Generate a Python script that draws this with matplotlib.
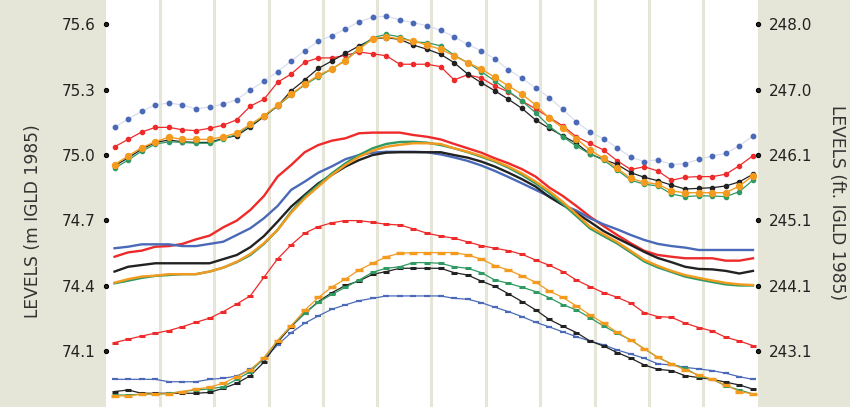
import matplotlib
matplotlib.use("Agg")
import matplotlib.pyplot as plt
import numpy as np

# weekly positions, 4 per month over 12 months
weeks = np.arange(48)
month_edges = np.arange(1, 12) * 4 - 2 / 3

# upper group (round markers)
top_blue = [75.127, 75.166, 75.201, 75.230, 75.239, 75.230, 75.212, 75.221, 75.234, 75.254,
            75.299, 75.339, 75.383, 75.432, 75.479, 75.523, 75.548, 75.579, 75.612, 75.633,
            75.638, 75.621, 75.608, 75.594, 75.573, 75.543, 75.508, 75.479, 75.441, 75.392,
            75.352, 75.308, 75.264, 75.210, 75.152, 75.107, 75.074, 75.034, 74.990, 74.970,
            74.979, 74.956, 74.960, 74.980, 74.996, 75.008, 75.043, 75.088]
top_red = [75.038, 75.072, 75.106, 75.127, 75.127, 75.116, 75.112, 75.123, 75.137, 75.162,
           75.225, 75.256, 75.334, 75.372, 75.426, 75.446, 75.446, 75.458, 75.473, 75.465,
           75.456, 75.417, 75.417, 75.417, 75.406, 75.345, 75.369, 75.354, 75.317, 75.290,
           75.248, 75.212, 75.173, 75.134, 75.084, 75.054, 75.023, 74.974, 74.934, 74.946,
           74.927, 74.884, 74.898, 74.901, 74.901, 74.912, 74.951, 74.997]
top_black = [74.950, 74.987, 75.027, 75.058, 75.069, 75.061, 75.058, 75.058, 75.077, 75.089,
             75.130, 75.176, 75.225, 75.295, 75.345, 75.398, 75.432, 75.467, 75.501, 75.533,
             75.539, 75.531, 75.505, 75.486, 75.463, 75.424, 75.372, 75.332, 75.295, 75.256,
             75.214, 75.161, 75.123, 75.088, 75.054, 75.005, 74.980, 74.957, 74.919, 74.898,
             74.882, 74.862, 74.844, 74.847, 74.850, 74.858, 74.877, 74.912]
top_orange = [74.956, 74.996, 75.034, 75.061, 75.082, 75.072, 75.072, 75.072, 75.084, 75.101,
              75.141, 75.181, 75.228, 75.279, 75.326, 75.366, 75.396, 75.433, 75.486, 75.533,
              75.543, 75.533, 75.524, 75.505, 75.486, 75.456, 75.424, 75.395, 75.357, 75.317,
              75.279, 75.230, 75.169, 75.125, 75.075, 75.023, 74.985, 74.939, 74.893, 74.875,
              74.866, 74.835, 74.827, 74.827, 74.827, 74.827, 74.858, 74.905]
top_green = [74.939, 74.977, 75.018, 75.050, 75.061, 75.058, 75.054, 75.054, 75.074, 75.095,
             75.137, 75.179, 75.225, 75.276, 75.322, 75.360, 75.395, 75.436, 75.490, 75.539,
             75.554, 75.543, 75.520, 75.516, 75.502, 75.459, 75.424, 75.383, 75.340, 75.293,
             75.248, 75.194, 75.133, 75.084, 75.041, 75.005, 74.977, 74.931, 74.885, 74.866,
             74.858, 74.821, 74.809, 74.813, 74.812, 74.809, 74.832, 74.885]

# middle group (plain lines)
mid_red = [74.533, 74.553, 74.561, 74.579, 74.582, 74.592, 74.613, 74.630, 74.668, 74.699,
           74.748, 74.812, 74.901, 74.954, 75.013, 75.046, 75.066, 75.077, 75.100, 75.103,
           75.103, 75.103, 75.092, 75.084, 75.072, 75.051, 75.031, 75.011, 74.985, 74.962,
           74.935, 74.901, 74.851, 74.812, 74.766, 74.717, 74.674, 74.633, 74.595, 74.560,
           74.541, 74.533, 74.526, 74.526, 74.526, 74.515, 74.515, 74.526]
mid_blue = [74.572, 74.579, 74.590, 74.590, 74.590, 74.582, 74.582, 74.592, 74.602, 74.633,
            74.664, 74.710, 74.766, 74.840, 74.878, 74.919, 74.948, 74.981, 75.000, 75.011,
            75.015, 75.015, 75.015, 75.013, 75.003, 74.989, 74.973, 74.952, 74.927, 74.899,
            74.870, 74.840, 74.810, 74.771, 74.745, 74.710, 74.682, 74.659, 74.633, 74.610,
            74.592, 74.582, 74.575, 74.564, 74.564, 74.564, 74.564, 74.564]
mid_black = [74.465, 74.487, 74.495, 74.503, 74.503, 74.503, 74.503, 74.503, 74.522, 74.541,
             74.577, 74.628, 74.694, 74.763, 74.817, 74.870, 74.909, 74.947, 74.977, 75.000,
             75.011, 75.013, 75.013, 75.013, 75.013, 75.000, 74.988, 74.970, 74.947, 74.919,
             74.889, 74.855, 74.808, 74.771, 74.734, 74.693, 74.651, 74.618, 74.587, 74.555,
             74.527, 74.508, 74.487, 74.477, 74.475, 74.468, 74.456, 74.468]
mid_green = [74.411, 74.423, 74.436, 74.445, 74.449, 74.453, 74.453, 74.465, 74.483, 74.508,
             74.541, 74.592, 74.656, 74.740, 74.809, 74.863, 74.916, 74.962, 75.000, 75.031,
             75.051, 75.060, 75.061, 75.057, 75.046, 75.031, 75.013, 74.992, 74.970, 74.942,
             74.909, 74.870, 74.826, 74.775, 74.720, 74.663, 74.628, 74.594, 74.553, 74.511,
             74.484, 74.463, 74.442, 74.429, 74.417, 74.406, 74.401, 74.401]
mid_orange = [74.414, 74.430, 74.442, 74.446, 74.453, 74.453, 74.453, 74.465, 74.483, 74.510,
              74.546, 74.595, 74.656, 74.735, 74.801, 74.855, 74.909, 74.954, 74.992, 75.020,
              75.038, 75.047, 75.054, 75.054, 75.051, 75.031, 75.015, 74.996, 74.974, 74.947,
              74.916, 74.878, 74.835, 74.785, 74.729, 74.671, 74.636, 74.601, 74.560, 74.518,
              74.491, 74.468, 74.449, 74.436, 74.424, 74.413, 74.406, 74.403]

# lower group (bar markers)
low_red = [74.139, 74.154, 74.169, 74.182, 74.194, 74.212, 74.232, 74.251, 74.281, 74.316,
           74.354, 74.439, 74.523, 74.587, 74.641, 74.671, 74.689, 74.699, 74.699, 74.691,
           74.682, 74.679, 74.661, 74.641, 74.628, 74.618, 74.601, 74.584, 74.572, 74.561,
           74.544, 74.518, 74.494, 74.465, 74.426, 74.396, 74.368, 74.347, 74.320, 74.276,
           74.258, 74.255, 74.228, 74.208, 74.192, 74.163, 74.146, 74.125]
low_orange = [73.894, 73.894, 73.902, 73.903, 73.903, 73.914, 73.925, 73.934, 73.952, 73.982,
              74.013, 74.070, 74.148, 74.216, 74.287, 74.346, 74.394, 74.431, 74.472, 74.503,
              74.533, 74.549, 74.552, 74.552, 74.552, 74.552, 74.541, 74.522, 74.492, 74.472,
              74.445, 74.416, 74.376, 74.346, 74.307, 74.266, 74.228, 74.186, 74.151, 74.110,
              74.071, 74.041, 74.013, 73.990, 73.970, 73.944, 73.914, 73.903]
low_green = [73.898, 73.898, 73.902, 73.902, 73.906, 73.914, 73.921, 73.926, 73.936, 73.970,
             74.005, 74.067, 74.148, 74.216, 74.273, 74.324, 74.360, 74.393, 74.426, 74.462,
             74.480, 74.487, 74.506, 74.506, 74.503, 74.487, 74.480, 74.460, 74.426, 74.411,
             74.393, 74.373, 74.345, 74.313, 74.289, 74.253, 74.215, 74.182, 74.151, 74.110,
             74.071, 74.041, 74.021, 73.986, 73.970, 73.940, 73.921, 73.903]
low_black = [73.914, 73.921, 73.906, 73.906, 73.906, 73.906, 73.906, 73.910, 73.929, 73.952,
             73.987, 74.049, 74.140, 74.212, 74.273, 74.327, 74.368, 74.401, 74.422, 74.452,
             74.465, 74.480, 74.480, 74.480, 74.480, 74.460, 74.449, 74.421, 74.397, 74.363,
             74.327, 74.289, 74.245, 74.214, 74.185, 74.146, 74.123, 74.093, 74.067, 74.036,
             74.016, 74.010, 73.987, 73.978, 73.970, 73.957, 73.944, 73.925]
low_blue = [73.970, 73.970, 73.970, 73.970, 73.959, 73.959, 73.959, 73.970, 73.975, 73.985,
            74.016, 74.062, 74.128, 74.184, 74.228, 74.261, 74.292, 74.312, 74.331, 74.342,
            74.353, 74.353, 74.353, 74.353, 74.353, 74.342, 74.338, 74.322, 74.301, 74.281,
            74.258, 74.232, 74.211, 74.188, 74.166, 74.146, 74.128, 74.105, 74.086, 74.067,
            74.041, 74.036, 74.025, 74.018, 74.010, 73.998, 73.982, 73.970]

m_ticks = [74.1, 74.4, 74.7, 75.0, 75.3, 75.6]
M_TO_FT = 3.28084

RED = "#ee2a2a"
BLUE = "#4a6ab8"
BLACK = "#222222"
GREEN = "#2f9a62"
ORANGE = "#f39a1f"
BEIGE = "#e5e6d7"

fig = plt.figure(figsize=(8.5, 4.07), dpi=100, facecolor=BEIGE)
ax = fig.add_axes([105.5 / 850, 0, 652 / 850, 1])
ax.set_facecolor("white")
ax.set_xlim(-2 / 3, 47 + 1 / 3)
ax.set_ylim(73.843, 75.712)

for xe in month_edges:
    ax.axvline(xe, color=BEIGE, lw=2.2, zorder=0)

# upper group
ax.plot(weeks, top_blue, color="#d8deee", lw=0.9, marker="o", ms=3.2,
        mfc=BLUE, mec=BLUE, zorder=2)
ax.plot(weeks, top_red, color=RED, lw=0.9, marker="o", ms=3, zorder=3)
ax.plot(weeks, top_black, color=BLACK, lw=0.9, marker="o", ms=3, zorder=3)
ax.plot(weeks, top_green, color=GREEN, lw=0.9, marker="o", ms=3, zorder=3)
ax.plot(weeks, top_orange, color=ORANGE, lw=1, marker="o", ms=4.3, zorder=4)

# middle group
ax.plot(weeks, mid_red, color=RED, lw=1.7, zorder=3)
ax.plot(weeks, mid_blue, color=BLUE, lw=1.7, zorder=3)
ax.plot(weeks, mid_black, color=BLACK, lw=1.7, zorder=3)
ax.plot(weeks, mid_green, color=GREEN, lw=1.7, zorder=3)
ax.plot(weeks, mid_orange, color=ORANGE, lw=1.7, zorder=4)

# lower group
for vals, col, ms, mew in [(low_red, RED, 4.5, 2.2), (low_blue, BLUE, 4, 1.6),
                           (low_black, BLACK, 4.5, 2.2), (low_green, GREEN, 4.5, 2.2),
                           (low_orange, ORANGE, 5.5, 2.4)]:
    ax.plot(weeks, vals, color=col, lw=0.9, marker="_", ms=ms, mew=mew, zorder=3)

for s in ax.spines.values():
    s.set_visible(False)
ax.set_xticks([])
ax.set_yticks(m_ticks)
ax.set_yticklabels([f"{t:.1f}" for t in m_ticks])
ax.tick_params(axis="y", length=3, pad=4, labelsize=11, labelcolor="#222222")
for t in ax.yaxis.get_major_ticks():
    t.tick1line.set_marker("o")
    t.tick1line.set_markersize(3)
    t.tick1line.set_color("#222222")

ax2 = ax.twinx()
ax2.set_ylim(73.843 * M_TO_FT, 75.712 * M_TO_FT)
ft_ticks = [t * M_TO_FT for t in m_ticks]
ax2.set_yticks(ft_ticks)
ax2.set_yticklabels([f"{t:.1f}" for t in ft_ticks])
ax2.tick_params(axis="y", length=3, pad=5, labelsize=11, labelcolor="#222222")
for t in ax2.yaxis.get_major_ticks():
    t.tick2line.set_marker("o")
    t.tick2line.set_markersize(3)
    t.tick2line.set_color("#222222")
for s in ax2.spines.values():
    s.set_visible(False)

fig.text(33 / 850, 1 - 221 / 407, "LEVELS (m IGLD 1985)", rotation=90,
         ha="center", va="center", fontsize=12.3, color="#333333")
fig.text(837 / 850, 1 - 203 / 407, "LEVELS (ft. IGLD 1985)", rotation=270,
         ha="center", va="center", fontsize=12.3, color="#333333")

fig.savefig("out.png", dpi=100, facecolor=BEIGE)
